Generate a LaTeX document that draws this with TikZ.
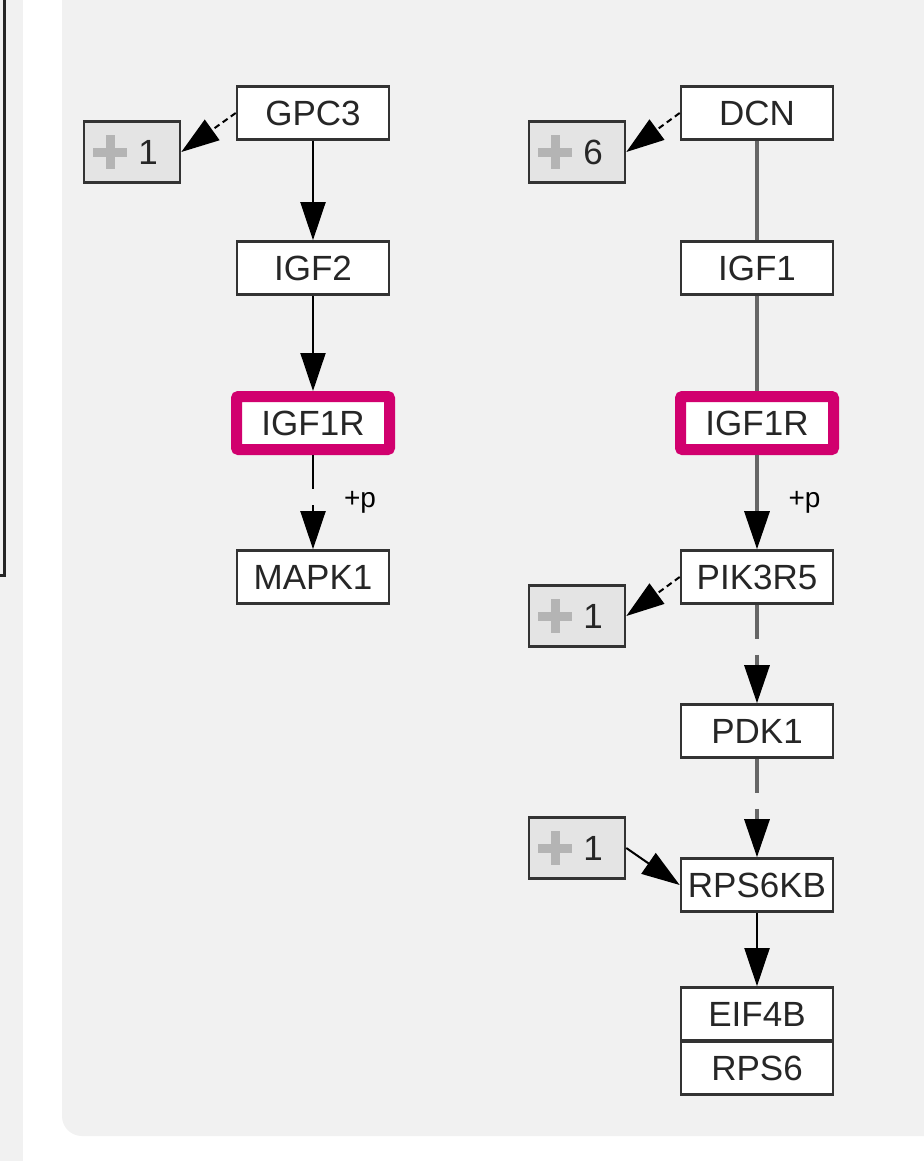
\documentclass[tikz,border=0pt]{standalone}
\usepackage{fontspec}
\setmainfont{Liberation Sans}
\usetikzlibrary{arrows.meta}
\definecolor{panelgray}{HTML}{F1F1F1}
\definecolor{hitpink}{HTML}{D1006E}
\definecolor{moregray}{HTML}{E4E4E4}
\definecolor{plusgray}{HTML}{B4B4B4}
\definecolor{linkgray}{HTML}{666666}

\begin{document}
\begin{tikzpicture}[x=0.5pt,y=-0.5pt,
    gene/.style={draw=black!80,line width=1.3pt,fill=white,minimum width=76pt,
      minimum height=26.5pt,inner sep=1pt,text=black!85,font=\fontsize{17.5}{20}\selectfont},
    hit/.style={gene,draw=hitpink,line width=5.5pt,minimum width=76.5pt,
      minimum height=26.5pt,rounded corners=1pt},
    more/.style={draw=black!80,line width=1.3pt,fill=moregray,minimum width=48pt,
      minimum height=30.5pt,inner sep=0pt,text=black!85,font=\fontsize{17.5}{20}\selectfont,
      path picture={\draw[plusgray,line width=4.5pt]
        ([xshift=4.5pt]path picture bounding box.west) -- ++(17pt,0pt)
        ([xshift=13pt,yshift=8.5pt]path picture bounding box.west) -- ++(0pt,-17pt);}},
    act/.style={font=\fontsize{14}{16}\selectfont,inner sep=1pt},
    rel/.style={black,line width=1pt,-{Triangle[length=19pt,width=12.5pt,color=black]}},
    ind/.style={rel,dash pattern=on 17pt off 8pt},
    side/.style={rel,dash pattern=on 3pt off 2pt},
    grel/.style={rel,draw=linkgray,line width=1.6pt},
    gind/.style={grel,dash pattern=on 17pt off 8pt},
    bind/.style={linkgray,line width=1.6pt}]
  \useasboundingbox (0,0) rectangle (923,1161);
  % backdrop: edge of the neighbouring box and the pathway panel
  \fill[white] (0,0) rectangle (923,1161);
  \fill[panelgray] (0,0) rectangle (23,1161);
  \draw[black!85,line width=1.5pt] (4,-10) -- (4,575) -- (-10,575);
  \fill[panelgray,rounded corners=10pt] (62,-40) -- (62,1136) -- (960,1136) -- (960,-40) -- cycle;
  % GPC3 branch
  \node[gene] (gpc3) at (313,113) {GPC3};
  \node[gene] (igf2) at (313,268) {IGF2};
  \node[hit] (igf1rA) at (313,423) {IGF1R};
  \node[gene] (mapk1) at (313,577) {MAPK1};
  \node[more] (moreA) at (132,152) {\hspace*{16pt}1};
  \draw[side] (gpc3.west) -- (moreA.east);
  \draw[rel] (gpc3) -- (igf2);
  \draw[rel] (igf2) -- (igf1rA);
  \draw[ind] (igf1rA) -- node[act,right=14pt,pos=0.5] {+p} (mapk1);
  % DCN branch
  \node[gene] (dcn) at (757,113) {DCN};
  \node[gene] (igf1) at (757,268) {IGF1};
  \node[hit] (igf1rB) at (757,423) {IGF1R};
  \node[gene] (pik3r5) at (757,577) {PIK3R5};
  \node[gene] (pdk1) at (757,731) {PDK1};
  \node[gene] (rps6kb) at (757,885) {RPS6KB};
  \node[gene] (eif4b) at (757,1014) {EIF4B};
  \node[gene] (rps6) at (757,1068) {RPS6};
  \node[more] (moreB) at (577,152) {\hspace*{16pt}6};
  \node[more] (moreC) at (577,616) {\hspace*{16pt}1};
  \node[more] (moreD) at (577,848) {\hspace*{16pt}1};
  \draw[side] (dcn.west) -- (moreB.east);
  \draw[bind] (dcn) -- (igf1);
  \draw[bind] (igf1) -- (igf1rB);
  \draw[grel] (igf1rB) -- node[act,right=14pt,pos=0.5] {+p} (pik3r5);
  \draw[side] (pik3r5.west) -- (moreC.east);
  \draw[gind] (pik3r5) -- (pdk1);
  \draw[gind] (pdk1) -- (rps6kb);
  \draw[rel] (moreD.east) -- (rps6kb.west);
  \draw[rel] (rps6kb) -- (eif4b);
\end{tikzpicture}
\end{document}
